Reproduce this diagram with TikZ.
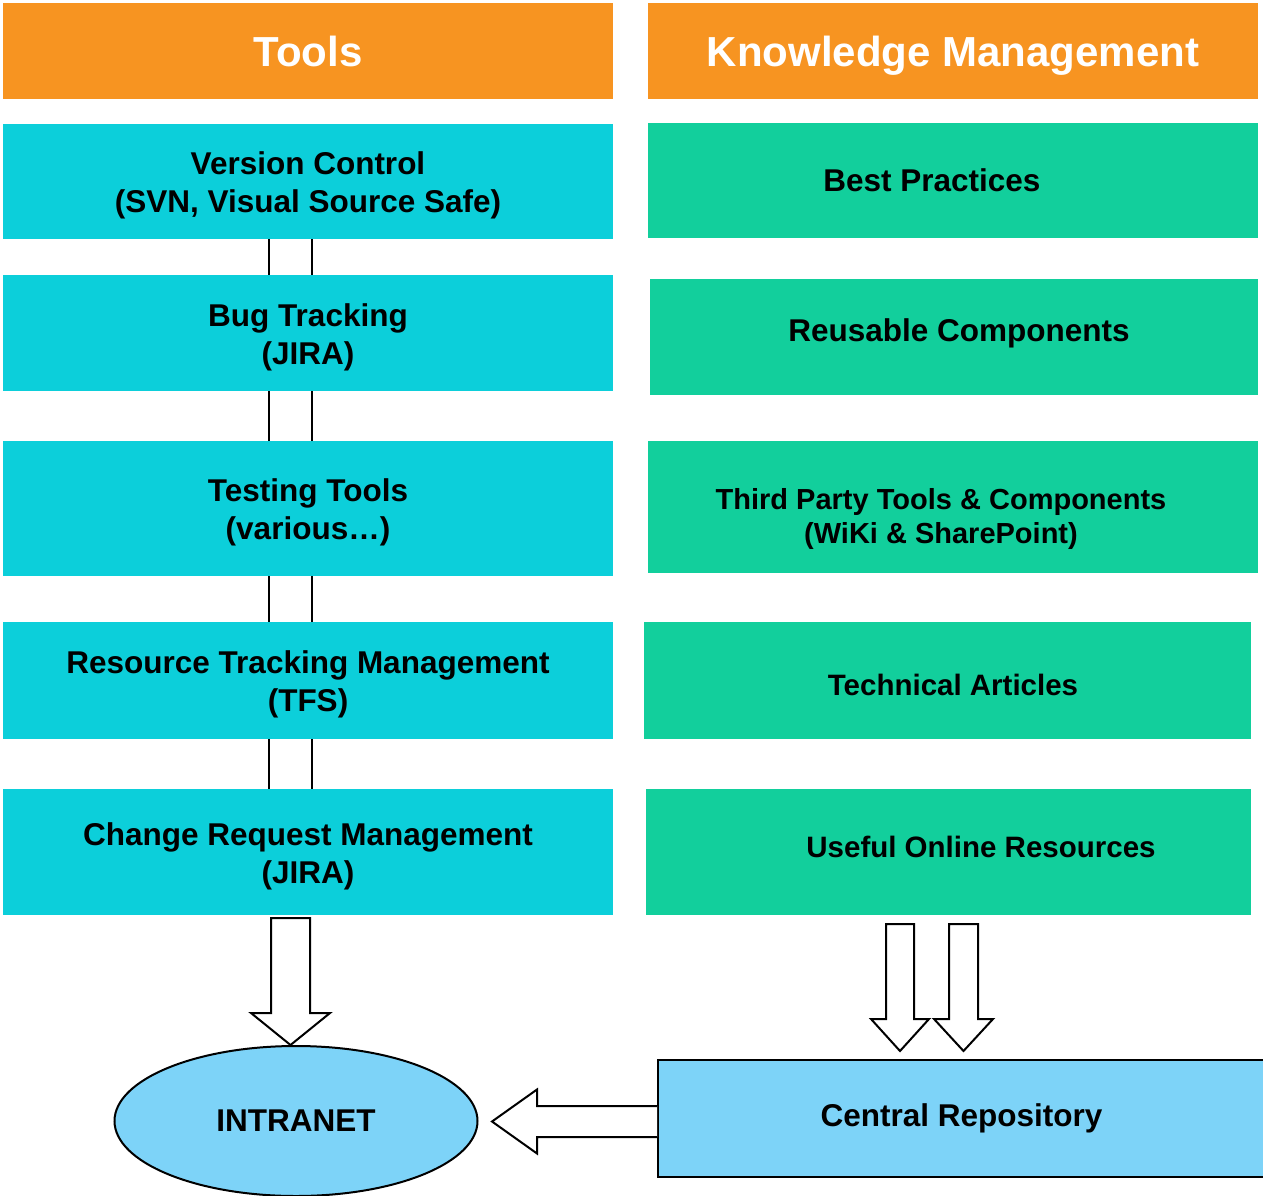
\documentclass[tikz,border=0pt]{standalone}
\usepackage{fontspec}
\setmainfont{Liberation Sans}
\usetikzlibrary{calc,shapes.geometric}
\definecolor{headorange}{RGB}{247,148,33}
\definecolor{toolcyan}{RGB}{12,207,218}
\definecolor{kmgreen}{RGB}{18,207,156}
\definecolor{repoblue}{RGB}{125,211,248}

% fat hollow arrow pointing down: start, tip, shaft half width, head half width, head length
\newcommand{\fatdown}[5]{%
  \draw[fat] ($(#1)+(-#3,0)$) -- ($(#2)+(-#3,-#5)$) -- ($(#2)+(-#4,-#5)$) -- (#2)
    -- ($(#2)+(#4,-#5)$) -- ($(#2)+(#3,-#5)$) -- ($(#1)+(#3,0)$) -- cycle;}

\begin{document}
\begin{tikzpicture}[x=1pt, y=-1pt,
  head/.style = {shape=rectangle, fill=headorange, text=white, minimum width=610pt, minimum height=96pt, text height=38pt, text depth=6pt, font=\bfseries\fontsize{42}{50}\selectfont},
  toolbox/.style = {shape=rectangle, fill=toolcyan, minimum width=610pt},
  kmbox/.style = {shape=rectangle, fill=kmgreen},
  every label/.style = {align=center, font=\bfseries\fontsize{31.5}{38}\selectfont},
  small/.style = {font=\bfseries\fontsize{29.5}{34}\selectfont},
  link/.style = {draw, line width=2pt},
  fat/.style = {draw, fill=white, line width=2pt, line join=miter},
  target/.style = {draw, line width=2pt, fill=repoblue, font=\bfseries\fontsize{31.5}{38}\selectfont}]
	\useasboundingbox (0,0) rectangle (1263,1196);
	% column heads
	\node[head] (tools) at (308,51) {Tools};
	\node[head] (km) at (953,51) {Knowledge Management};
	% tools column
	\node[toolbox, minimum height=115pt, label={[yshift=-4pt]center:Version Control\\(SVN, Visual Source Safe)}] (t1) at (308,181.5) {};
	\node[toolbox, minimum height=116pt, label={[yshift=-4pt]center:Bug Tracking\\(JIRA)}] (t2) at (308,333) {};
	\node[toolbox, minimum height=135pt, label={[yshift=-4pt]center:Testing Tools\\(various\dots)}] (t3) at (308,508.5) {};
	\node[toolbox, minimum height=117pt, label={[yshift=-4pt]center:Resource Tracking Management\\(TFS)}] (t4) at (308,680.5) {};
	\node[toolbox, minimum height=126pt, label={[yshift=-4pt]center:Change Request Management\\(JIRA)}] (t5) at (308,852) {};
	\foreach \a/\b in {t1/t2, t2/t3, t3/t4, t4/t5} {
		\draw[link] ([xshift=-39pt]\a.south) -- ([xshift=-39pt]\b.north);
		\draw[link] ([xshift=4pt]\a.south) -- ([xshift=4pt]\b.north);
	}
	% knowledge column
	\node[kmbox, minimum width=610pt, minimum height=115pt, label={[xshift=-21pt]center:Best Practices}] (k1) at (953,180.5) {};
	\node[kmbox, minimum width=608pt, minimum height=116pt, label={[xshift=5pt, yshift=4pt]center:Reusable Components}] (k2) at (954,337) {};
	\node[kmbox, minimum width=610pt, minimum height=132pt, label={[xshift=-12pt, yshift=-12pt, font=\bfseries\fontsize{29}{34}\selectfont]center:Third Party Tools \& Components\\(WiKi \& SharePoint)}] (k3) at (953,507) {};
	\node[kmbox, minimum width=607pt, minimum height=117pt, label={[small, xshift=5.5pt, yshift=-4pt]center:Technical Articles}] (k4) at (947.5,680.5) {};
	\node[kmbox, minimum width=605pt, minimum height=126pt, label={[small, xshift=32.5pt, yshift=5pt]center:Useful Online Resources}] (k5) at (948.5,852) {};
	% outputs
	\node[target, shape=ellipse, minimum width=363pt, minimum height=150pt] (intranet) at (296,1121) {INTRANET};
	\node[target, shape=rectangle, minimum width=607pt, minimum height=117pt] (repo) at (961.5,1118.5) {Central Repository};
	% fat arrows
	\coordinate (s1) at ($(t5.south)+(-17.5,3)$);
	\coordinate (e1) at (intranet.north -| s1);
	\fatdown{s1}{e1}{19.5}{39.5}{32}
	\coordinate (s2) at ($(k5.south)+(-48.5,9)$);
	\coordinate (e2) at ($(repo.north -| s2)+(0,-8)$);
	\fatdown{s2}{e2}{14}{29}{32}
	\coordinate (s3) at ($(k5.south)+(15,9)$);
	\coordinate (e3) at ($(repo.north -| s3)+(0,-8)$);
	\fatdown{s3}{e3}{14.5}{29.5}{32}
	\coordinate (s4) at ($(repo.west)+(0,3)$);
	\coordinate (e4) at ($(intranet.east |- s4)+(13.5,0)$);
	\draw[fat] ($(s4)+(0,-15.5)$) -- ($(e4)+(45,-15.5)$) -- ($(e4)+(45,-32)$) -- (e4)
		-- ($(e4)+(45,32)$) -- ($(e4)+(45,15.5)$) -- ($(s4)+(0,15.5)$);
\end{tikzpicture}
\end{document}
